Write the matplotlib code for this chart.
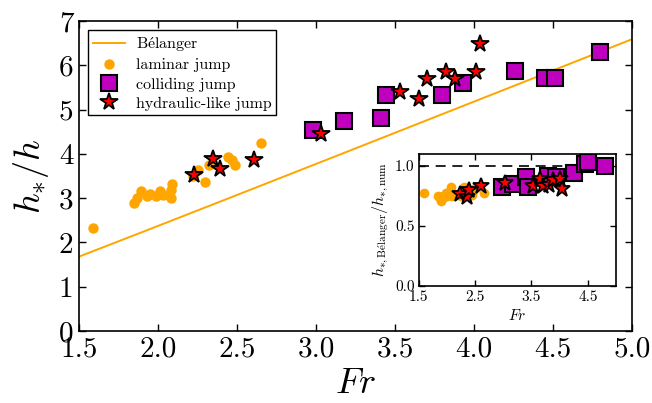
import numpy as np
import matplotlib
matplotlib.use("Agg")
import matplotlib.pyplot as plt

plt.rcParams.update({
    "font.family": "serif",
    "font.serif": ["cmr10", "DejaVu Serif"],
    "mathtext.fontset": "cm",
    "axes.formatter.use_mathtext": True,
    "xtick.direction": "in",
    "ytick.direction": "in",
    "xtick.top": True,
    "ytick.right": True,
})

# laminar jumps
fr_lam = [1.59, 1.85, 1.87, 1.89, 1.93, 1.95, 1.99, 2.01, 2.03, 2.08, 2.08, 2.09,
          2.22, 2.25, 2.30, 2.32, 2.44, 2.47, 2.49, 2.65]
h_lam = [2.32, 2.90, 3.00, 3.15, 3.05, 3.10, 3.05, 3.17, 3.07, 3.00, 3.18, 3.32,
         3.50, 3.63, 3.37, 3.75, 3.93, 3.85, 3.75, 4.25]

# colliding jumps
fr_col = [2.98, 3.18, 3.41, 3.44, 3.80, 3.93, 4.26, 4.45, 4.51, 4.80]
h_col = [4.54, 4.74, 4.80, 5.34, 5.34, 5.59, 5.87, 5.72, 5.72, 6.29]

# hydraulic-like jumps
fr_hyd = [2.23, 2.35, 2.39, 2.61, 3.03, 3.53, 3.65, 3.70, 3.82, 3.88, 4.01, 4.04]
h_hyd = [3.53, 3.88, 3.65, 3.86, 4.44, 5.40, 5.24, 5.70, 5.85, 5.70, 5.85, 6.47]

x_ticks = [1.5, 2.0, 2.5, 3.0, 3.5, 4.0, 4.5, 5.0]
y_ticks = [0, 1, 2, 3, 4, 5, 6, 7]
inset_x_ticks = [1.5, 2.5, 3.5, 4.5]
inset_y_ticks = [0.0, 0.5, 1.0]


def belanger(fr):
    fr = np.asarray(fr, dtype=float)
    return 0.5 * (np.sqrt(1.0 + 8.0 * fr ** 2) - 1.0)


lam_style = dict(ls="none", marker="o", color="orange", mec="orange", mew=0)
col_style = dict(ls="none", marker="s", mfc="#bf00bf", mec="black", mew=1.5)
hyd_style = dict(ls="none", marker="*", mfc="red", mec="black", mew=1.3)

fig = plt.figure(figsize=(6.52, 4.03), dpi=100)
ax = fig.add_axes([0.1212, 0.1787, 0.8481, 0.7692])

fr_line = np.linspace(1.5, 5.0, 200)
ax.plot(fr_line, belanger(fr_line), color="orange", lw=1.4, label=r"$\mathrm{B\acute{e}langer}$")
ax.plot(fr_lam, h_lam, ms=7.5, label="laminar jump", **lam_style)
ax.plot(fr_col, h_col, ms=11.5, label="colliding jump", **col_style)
ax.plot(fr_hyd, h_hyd, ms=13, label="hydraulic-like jump", **hyd_style)

ax.set_xlim(1.5, 5.0)
ax.set_ylim(0, 7)
ax.set_xticks(x_ticks)
ax.set_yticks(y_ticks)
ax.set_xticklabels([f"{v:.1f}" for v in x_ticks])
ax.set_yticklabels([f"{v:d}" for v in y_ticks])
ax.tick_params(labelsize=21, length=5, width=1, pad=4)
ax.set_xlabel(r"$Fr$", fontsize=26, labelpad=4)
ax.set_ylabel(r"$h_{*}/h$", fontsize=26, labelpad=6)
for s in ax.spines.values():
    s.set_linewidth(1.2)

leg = ax.legend(loc="upper left", numpoints=1, fontsize=11.5, fancybox=False,
                framealpha=1, edgecolor="black", borderaxespad=0.55,
                handlelength=2.0, labelspacing=0.3, borderpad=0.3,
                handletextpad=0.7)
leg.get_frame().set_linewidth(1.0)

# inset: ratio of the Belanger prediction to the measured height
ins = fig.add_axes([0.6422, 0.2911, 0.3026, 0.3268])
ins.axhline(1.0, color="black", ls="--", lw=1.2, dashes=(6, 4))
ins.plot(fr_lam, belanger(fr_lam) / np.array(h_lam), ms=7, **lam_style)
ins.plot(fr_col, belanger(fr_col) / np.array(h_col), ms=11.5, **col_style)
ins.plot(fr_hyd, belanger(fr_hyd) / np.array(h_hyd), ms=12, **hyd_style)
ins.set_xlim(1.5, 5.0)
ins.set_ylim(0.0, 1.1)
ins.set_xticks(inset_x_ticks)
ins.set_yticks(inset_y_ticks)
ins.set_xticklabels([f"{v:.1f}" for v in inset_x_ticks])
ins.set_yticklabels([f"{v:.1f}" for v in inset_y_ticks])
ins.tick_params(labelsize=11, length=4, width=1, pad=3)
ins.set_xlabel(r"$Fr$", fontsize=11, labelpad=3)
ins.set_ylabel(r"$h_{*,\mathrm{B\acute{e}langer}}/h_{*,\mathrm{num}}$", fontsize=11.5, labelpad=3)
for s in ins.spines.values():
    s.set_linewidth(1.2)

fig.savefig("out.png", dpi=100)
